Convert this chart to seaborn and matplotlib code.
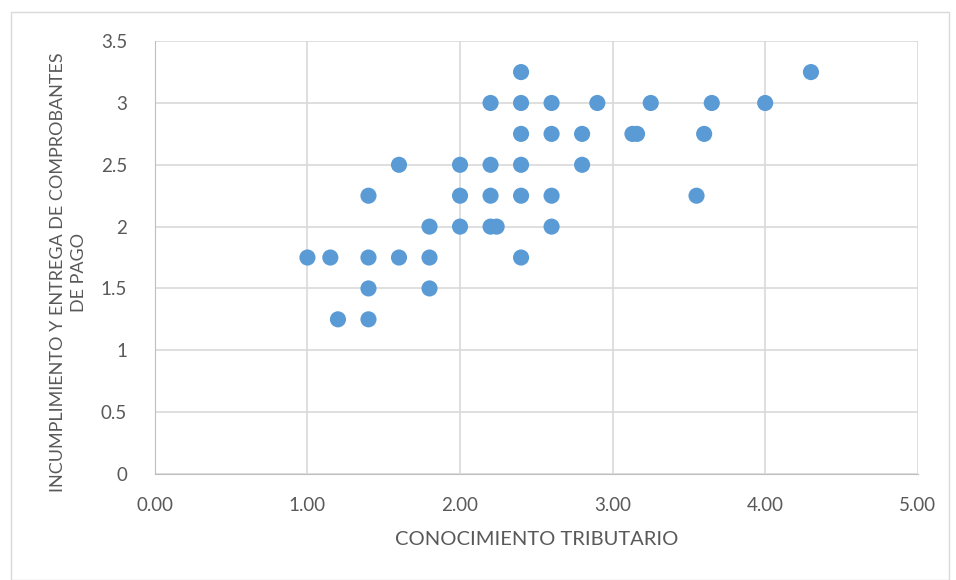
import matplotlib
matplotlib.use("Agg")
import matplotlib.pyplot as plt
import seaborn as sns
import pandas as pd
from matplotlib.patches import Rectangle

# values
conocimiento = [1.00, 1.15, 1.20, 1.40, 1.40, 1.40, 1.40, 1.60, 1.60,
                1.80, 1.80, 1.80, 2.00, 2.00, 2.00, 2.20, 2.20, 2.20, 2.20, 2.24,
                2.40, 2.40, 2.40, 2.40, 2.40, 2.40, 2.60, 2.60, 2.60, 2.60,
                2.80, 2.80, 2.90, 3.13, 3.16, 3.25, 3.55, 3.60, 3.65, 4.00, 4.30]
incumplimiento = [1.75, 1.75, 1.25, 2.25, 1.75, 1.50, 1.25, 2.50, 1.75,
                  2.00, 1.75, 1.50, 2.50, 2.25, 2.00, 3.00, 2.50, 2.25, 2.00, 2.00,
                  3.25, 3.00, 2.75, 2.50, 2.25, 1.75, 3.00, 2.75, 2.25, 2.00,
                  2.75, 2.50, 3.00, 2.75, 2.75, 3.00, 2.25, 2.75, 3.00, 3.00, 3.25]
x_ticks = [0, 1, 2, 3, 4, 5]
y_ticks = [0, 0.5, 1, 1.5, 2, 2.5, 3, 3.5]

df = pd.DataFrame({"x": conocimiento, "y": incumplimiento})

sns.set_style("white")
plt.rcParams['font.family'] = ['Lato', 'DejaVu Sans']

fig = plt.figure(figsize=(9.56, 5.8), dpi=100)
ax = fig.add_axes([0.162, 0.183, 0.798, 0.746])

sns.scatterplot(data=df, x="x", y="y", ax=ax, color="#5B9BD5", s=135,
                edgecolor="none", zorder=3)

ax.set_xlim(0, 5)
ax.set_ylim(0, 3.5)
ax.set_xticks(x_ticks)
ax.set_xticklabels([f"{v:.2f}" for v in x_ticks])
ax.set_yticks(y_ticks)
ax.set_yticklabels([f"{v:g}" for v in y_ticks])
ax.grid(True, color="#D9D9D9", linewidth=1.2)
for side in ["top", "right"]:
    ax.spines[side].set_visible(False)
for side in ["left", "bottom"]:
    ax.spines[side].set_color("#BFBFBF")
ax.tick_params(axis="both", length=0, labelsize=13.5, colors="#595959")
ax.tick_params(axis="x", pad=17)
ax.tick_params(axis="y", pad=20)

ax.set_xlabel("CONOCIMIENTO TRIBUTARIO", fontsize=14.5, color="#595959", labelpad=12)
ax.set_ylabel("INCUMPLIMIENTO Y ENTREGA DE COMPROBANTES\nDE PAGO", fontsize=13,
              color="#595959", labelpad=10, linespacing=1.4,
              multialignment="center")
ax.yaxis.label.set_y(0.465)

fig.patches.append(Rectangle((0.011, 0.0), 0.982, 0.98, transform=fig.transFigure,
                             fill=False, edgecolor="#D9D9D9", linewidth=1))

fig.savefig("out.png", dpi=100)
